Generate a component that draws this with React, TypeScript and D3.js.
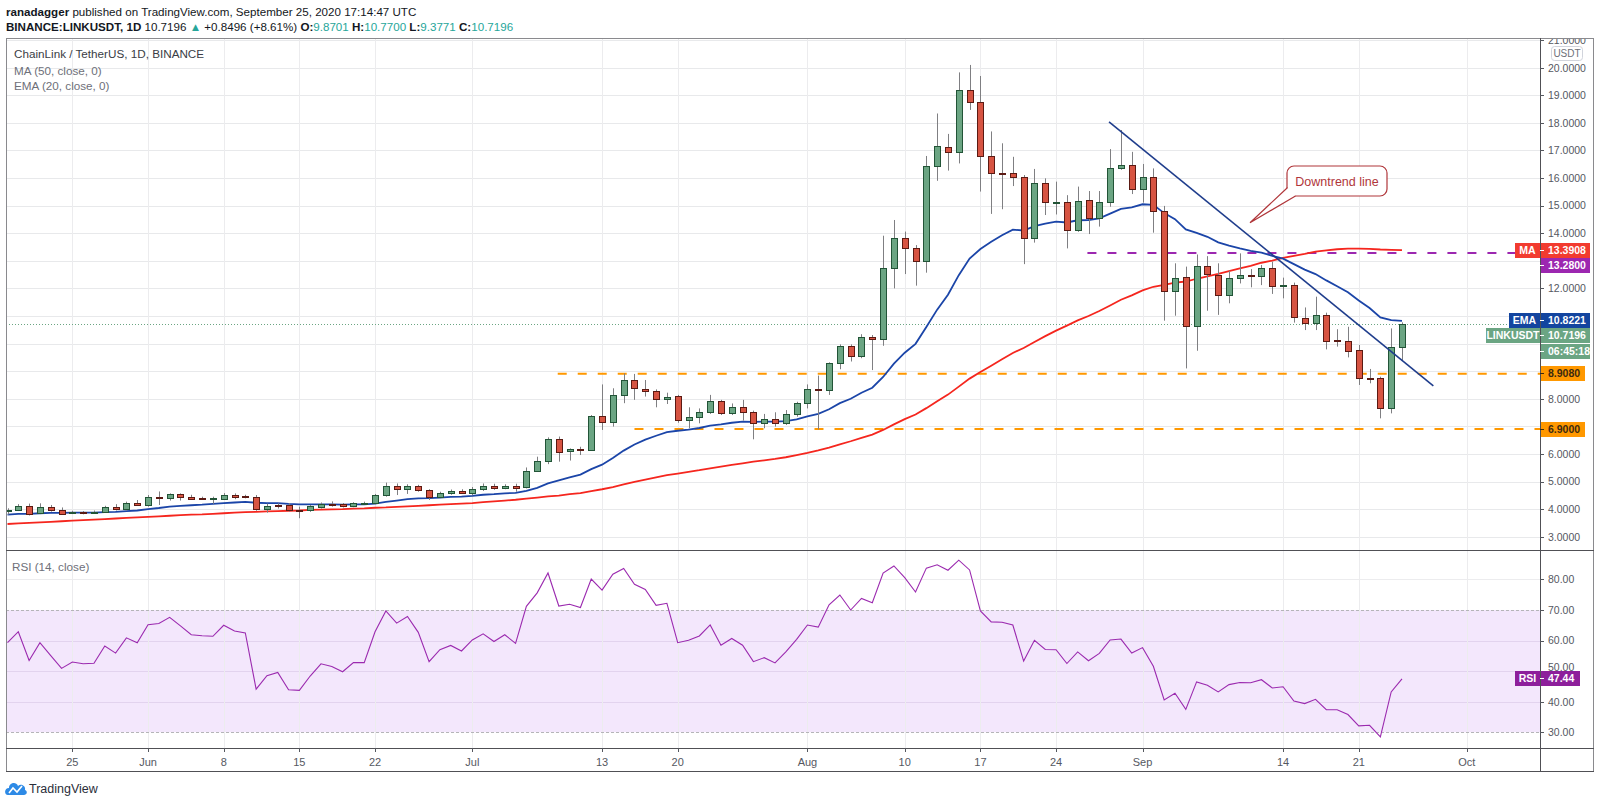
import React, { useRef, useEffect } from "react";
import * as d3 from "d3";

// first candle of the chart (daily candles, one per day)
const FIRST_DAY = "2020-05-19";

const opens = [
  3.95, 3.95, 4.12, 3.87, 4.09, 3.96, 3.85, 3.9, 3.86, 3.88,
  4.09, 4.0, 4.22, 4.16, 4.45, 4.42, 4.53, 4.45, 4.39, 4.38,
  4.38, 4.52, 4.48, 4.45, 3.99, 4.15, 4.15, 3.97, 3.96, 4.09,
  4.18, 4.17, 4.11, 4.2, 4.21, 4.51, 4.84, 4.74, 4.84, 4.69,
  4.44, 4.6, 4.65, 4.57, 4.74, 4.84, 4.77, 4.84, 4.79, 5.38,
  5.75, 6.53, 6.09, 6.17, 6.14, 7.36, 7.17, 8.15, 8.67, 8.37,
  8.27, 7.98, 8.11, 7.23, 7.33, 7.51, 7.91, 7.47, 7.69, 7.53,
  7.11, 7.27, 7.11, 7.44, 7.83, 8.34, 8.3, 9.29, 9.91, 9.55,
  10.25, 10.15, 12.73, 13.81, 13.45, 13.0, 16.44, 17.14, 16.93, 19.19,
  18.77, 16.8, 16.2, 16.2, 16.05, 13.81, 15.81, 15.14, 15.12, 14.12,
  15.2, 14.54, 15.12, 16.35, 16.47, 15.59, 16.03, 14.81, 11.91, 12.4,
  10.64, 12.81, 12.49, 11.76, 12.37, 12.49, 12.46, 12.73, 12.09, 12.12,
  10.92, 10.76, 11.04, 10.13, 10.11, 9.77, 8.77, 8.74, 7.65, 9.8701,
];
const highs = [
  4.03, 4.18, 4.2, 4.21, 4.15, 4.06, 3.94, 3.93, 3.95, 4.12,
  4.18, 4.27, 4.33, 4.51, 4.64, 4.57, 4.57, 4.52, 4.45, 4.45,
  4.58, 4.57, 4.52, 4.51, 4.2, 4.21, 4.21, 4.09, 4.15, 4.24,
  4.28, 4.22, 4.25, 4.27, 4.55, 4.96, 4.93, 4.9, 4.88, 4.72,
  4.63, 4.71, 4.72, 4.8, 4.93, 4.92, 4.9, 4.92, 5.51, 5.9,
  6.6, 6.63, 6.2, 6.26, 7.41, 8.52, 8.38, 8.92, 8.9, 8.68,
  8.34, 8.22, 8.14, 7.69, 7.65, 8.14, 7.96, 7.83, 7.96, 7.57,
  7.45, 7.51, 7.59, 7.89, 8.52, 8.84, 9.32, 9.97, 9.97, 10.34,
  10.31, 13.91, 14.48, 14.06, 13.57, 16.8, 18.34, 17.6, 19.83, 20.1,
  19.7, 17.69, 17.26, 16.77, 16.11, 16.33, 15.99, 15.87, 15.38, 15.69,
  15.53, 15.53, 17.05, 17.74, 16.95, 16.51, 16.35, 14.99, 12.91, 12.79,
  13.23, 13.17, 12.91, 12.64, 13.27, 12.7, 12.85, 12.97, 12.39, 12.21,
  11.31, 11.7, 11.12, 10.52, 10.61, 9.95, 9.08, 8.8, 10.55, 10.77,
];
const lows = [
  3.8, 3.93, 3.77, 3.82, 3.91, 3.79, 3.82, 3.81, 3.83, 3.86,
  3.95, 3.94, 4.12, 4.09, 4.15, 4.31, 4.31, 4.36, 4.33, 4.19,
  4.33, 4.36, 4.39, 3.94, 3.87, 4.02, 3.91, 3.67, 3.9, 4.02,
  4.09, 4.06, 4.07, 4.15, 4.18, 4.45, 4.51, 4.55, 4.63, 4.33,
  4.4, 4.52, 4.55, 4.5, 4.66, 4.7, 4.72, 4.63, 4.75, 5.36,
  5.63, 5.72, 5.76, 5.96, 6.12, 6.87, 6.99, 7.84, 7.96, 8.08,
  7.69, 7.81, 7.13, 6.93, 7.11, 7.45, 7.41, 7.41, 7.21, 6.53,
  6.93, 6.99, 7.05, 7.35, 7.65, 6.89, 8.14, 9.07, 9.35, 9.47,
  9.04, 9.92, 12.0, 12.52, 12.1, 12.57, 15.9, 16.27, 16.53, 18.47,
  15.51, 14.7, 14.87, 15.71, 12.88, 13.66, 14.66, 14.68, 13.45, 14.05,
  13.97, 14.24, 14.96, 16.3, 15.42, 15.11, 14.02, 10.83, 11.01, 9.1,
  9.74, 11.19, 11.04, 11.46, 12.18, 12.04, 12.12, 11.8, 11.64, 10.76,
  10.49, 10.49, 9.79, 9.89, 9.5, 8.5, 8.56, 7.29, 7.47, 9.3771,
];
const closes = [
  3.98, 4.12, 3.82, 4.09, 3.96, 3.84, 3.91, 3.85, 3.91, 4.09,
  3.99, 4.22, 4.15, 4.43, 4.44, 4.53, 4.44, 4.38, 4.38, 4.39,
  4.52, 4.45, 4.44, 3.99, 4.13, 4.14, 3.97, 3.96, 4.11, 4.18,
  4.15, 4.11, 4.22, 4.22, 4.52, 4.84, 4.74, 4.84, 4.69, 4.43,
  4.6, 4.66, 4.59, 4.74, 4.84, 4.77, 4.84, 4.77, 5.37, 5.75,
  6.53, 6.08, 6.17, 6.14, 7.36, 7.17, 8.15, 8.67, 8.38, 8.27,
  7.98, 8.08, 7.23, 7.33, 7.51, 7.91, 7.47, 7.69, 7.53, 7.11,
  7.27, 7.11, 7.44, 7.83, 8.34, 8.3, 9.29, 9.91, 9.55, 10.25,
  10.15, 12.73, 13.81, 13.45, 13.0, 16.44, 17.17, 16.93, 19.19, 18.77,
  16.8, 16.2, 16.17, 16.05, 13.81, 15.81, 15.14, 15.14, 14.12, 15.18,
  14.54, 15.12, 16.35, 16.47, 15.59, 16.03, 14.81, 11.91, 12.37, 10.64,
  12.81, 12.51, 11.76, 12.37, 12.49, 12.48, 12.73, 12.09, 12.12, 10.95,
  10.76, 11.04, 10.11, 10.11, 9.74, 8.74, 8.74, 7.65, 9.89, 10.7196,
];

// EMA (20)
const ema20 = [
  3.8, 3.83, 3.83, 3.85, 3.86, 3.86, 3.87, 3.87, 3.87, 3.89,
  3.9, 3.93, 3.95, 4.0, 4.04, 4.09, 4.12, 4.14, 4.16, 4.19,
  4.22, 4.24, 4.26, 4.23, 4.22, 4.22, 4.19, 4.17, 4.17, 4.17,
  4.17, 4.16, 4.17, 4.17, 4.2, 4.26, 4.31, 4.36, 4.39, 4.4,
  4.42, 4.44, 4.45, 4.48, 4.52, 4.54, 4.57, 4.59, 4.66, 4.77,
  4.93, 5.04, 5.15, 5.25, 5.45, 5.61, 5.85, 6.12, 6.34, 6.52,
  6.66, 6.79, 6.84, 6.88, 6.94, 7.03, 7.07, 7.13, 7.17, 7.16,
  7.17, 7.17, 7.19, 7.25, 7.36, 7.45, 7.62, 7.84, 8.0, 8.22,
  8.4, 8.79, 9.27, 9.67, 9.99, 10.6, 11.23, 11.77, 12.48, 13.08,
  13.43, 13.69, 13.93, 14.13, 14.1, 14.26, 14.35, 14.42, 14.39, 14.47,
  14.48, 14.54, 14.71, 14.88, 14.94, 15.05, 15.03, 14.73, 14.51, 14.14,
  14.01, 13.87, 13.67, 13.55, 13.45, 13.36, 13.3, 13.18, 13.08, 12.88,
  12.68, 12.52, 12.29, 12.08, 11.86, 11.56, 11.29, 10.95, 10.85, 10.8221,
];

// MA (50)
const ma50 = [
  3.46, 3.48, 3.5, 3.52, 3.54, 3.56, 3.58, 3.6, 3.62, 3.64,
  3.66, 3.68, 3.7, 3.72, 3.74, 3.76, 3.78, 3.8, 3.81, 3.83,
  3.85, 3.87, 3.89, 3.9, 3.92, 3.93, 3.94, 3.95, 3.97, 3.98,
  3.99, 4.0, 4.02, 4.03, 4.05, 4.06, 4.08, 4.1, 4.12, 4.14,
  4.16, 4.18, 4.2, 4.22, 4.25, 4.28, 4.31, 4.34, 4.38, 4.42,
  4.46, 4.49, 4.54, 4.58, 4.65, 4.72, 4.8, 4.9, 4.99, 5.07,
  5.15, 5.23, 5.29, 5.35, 5.41, 5.48, 5.54, 5.6, 5.66, 5.72,
  5.77, 5.82, 5.88, 5.96, 6.04, 6.13, 6.23, 6.35, 6.46, 6.58,
  6.7, 6.87, 7.07, 7.26, 7.43, 7.66, 7.91, 8.15, 8.44, 8.73,
  8.97, 9.2, 9.43, 9.66, 9.84, 10.06, 10.27, 10.47, 10.65, 10.84,
  11.0, 11.18, 11.38, 11.59, 11.75, 11.93, 12.06, 12.13, 12.21, 12.25,
  12.35, 12.44, 12.53, 12.63, 12.73, 12.82, 12.93, 13.01, 13.11, 13.18,
  13.25, 13.33, 13.38, 13.42, 13.44, 13.44, 13.43, 13.41, 13.4, 13.3908,
];

// RSI (14, close)
const rsi14 = [
  59.3, 62.9, 53.5, 59.3, 55.1, 50.9, 53.0, 52.4, 52.6, 58.2,
  55.9, 60.9, 59.3, 65.2, 65.6, 67.6, 64.8, 61.9, 61.6, 61.4,
  65.0, 63.1, 62.5, 44.1, 48.5, 49.6, 43.9, 43.7, 48.4, 52.4,
  51.5, 49.8, 52.8, 52.8, 62.9, 69.7, 65.7, 67.9, 62.7, 53.1,
  57.0, 58.4, 56.6, 60.2, 62.2, 59.7, 61.9, 59.1, 71.2, 75.6,
  82.1, 71.3, 71.9, 70.8, 80.1, 76.5, 81.7, 83.6, 78.4, 76.7,
  71.5, 72.2, 59.3, 60.1, 61.5, 65.1, 58.5, 60.7, 58.5, 53.1,
  54.4, 52.7, 56.3, 60.4, 65.1, 64.4, 71.7, 74.9, 70.0, 73.8,
  72.4, 82.1, 84.4, 80.6, 75.9, 83.7, 84.8, 83.0, 86.3, 83.1,
  69.7, 66.1, 66.0, 65.1, 53.3, 60.1, 57.1, 57.0, 52.5, 56.3,
  53.4, 55.8, 60.2, 60.5, 55.9, 57.7, 51.6, 40.6, 42.8, 37.5,
  46.5, 45.4, 43.2, 45.6, 46.3, 46.2, 47.2, 44.5, 44.9, 40.2,
  39.4, 40.8, 37.4, 37.4, 35.8, 32.1, 32.3, 28.5, 43.2, 47.44,
];

const timeTicks: [string, string][] = [
  ["2020-05-25", "25"], ["2020-06-01", "Jun"], ["2020-06-08", "8"], ["2020-06-15", "15"],
  ["2020-06-22", "22"], ["2020-07-01", "Jul"], ["2020-07-13", "13"], ["2020-07-20", "20"],
  ["2020-08-01", "Aug"], ["2020-08-10", "10"], ["2020-08-17", "17"], ["2020-08-24", "24"],
  ["2020-09-01", "Sep"], ["2020-09-14", "14"], ["2020-09-21", "21"], ["2020-10-01", "Oct"],
];
const priceTicks = [3, 4, 5, 6, 7, 8, 9, 10, 11, 12, 13, 14, 15, 16, 17, 18, 19, 20, 21];
const rsiGrid = [40, 50, 60, 80];
const rsiTicks = [30, 40, 50, 60, 70, 80];

// horizontal levels drawn by the author (start = candle index)
const levels = [
  { value: 8.908, start: 50.9, color: "#FF9800", label: "8.9080" },
  { value: 6.9, start: 58.0, color: "#FF9800", label: "6.9000" },
  { value: 13.28, start: 99.9, color: "#9C27B0", label: "13.2800" },
];
// downtrend line, [candle index, price]
const trendLine: [number, number][] = [
  [101.9, 18.04],
  [131.9, 8.47],
];

const FONT = "'Liberation Sans', Arial, sans-serif";

function drawChart(svgEl: SVGSVGElement) {
  const svg = d3.select(svgEl);
  svg.selectAll("*").remove();

  const L = 6, R = 1594, T = 38, AX = 1540, PB = 550, RB = 748, B = 772;

  const x = d3.scaleLinear().domain([0, 135]).range([7.5, 7.5 + 135 * 10.81]);
  const y = d3.scaleLinear().domain([3, 20]).range([536.7, 67.7]);
  const ry = d3.scaleLinear().domain([30, 70]).range([732.3, 610]);

  const start = new Date(FIRST_DAY);
  const dayIndex = (s: string) => d3.utcDay.count(start, new Date(s));
  const px = (v: number) => Math.round(v) + 0.5;

  svg.append("rect").attr("width", 1600).attr("height", 805).attr("fill", "#fff");

  const defs = svg.append("defs");
  defs.append("clipPath").attr("id", "pricePane").append("rect")
    .attr("x", L).attr("y", T).attr("width", AX - L).attr("height", PB - T);
  defs.append("clipPath").attr("id", "rsiPane").append("rect")
    .attr("x", L).attr("y", PB).attr("width", AX - L).attr("height", RB - PB);
  defs.append("clipPath").attr("id", "priceAxis").append("rect")
    .attr("x", AX).attr("y", T + 1).attr("width", R - AX).attr("height", PB - T - 1);

  // RSI background band
  svg.append("rect")
    .attr("x", L).attr("y", ry(70)).attr("width", AX - L).attr("height", ry(30) - ry(70))
    .attr("fill", "#F3E7FC");

  // grid
  const grid = svg.append("g").attr("stroke", "#E8E9EB").attr("stroke-width", 1);
  grid.append("g").attr("clip-path", "url(#pricePane)")
    .selectAll("line").data(priceTicks).join("line")
    .attr("x1", L).attr("x2", AX).attr("y1", (d) => px(y(d))).attr("y2", (d) => px(y(d)));
  grid.append("g").selectAll("line").data(rsiGrid).join("line")
    .attr("x1", L).attr("x2", AX).attr("y1", (d) => px(ry(d))).attr("y2", (d) => px(ry(d)))
    .attr("stroke", (d) => (d === 80 ? "#ECECEE" : "#E2D3EE"));
  grid.append("g").selectAll("line").data(timeTicks).join("line")
    .attr("x1", (d) => px(x(dayIndex(d[0])))).attr("x2", (d) => px(x(dayIndex(d[0]))))
    .attr("y1", T).attr("y2", RB)
    .attr("stroke", "#ECECEE");

  // RSI 70 / 30 bands
  svg.append("g").selectAll("line").data([70, 30]).join("line")
    .attr("x1", L).attr("x2", AX).attr("y1", (d) => px(ry(d))).attr("y2", (d) => px(ry(d)))
    .attr("stroke", "#B5B5B8").attr("stroke-dasharray", "3,2");

  // legends
  const legend = svg.append("g").attr("font-family", FONT);
  legend.append("text").attr("x", 14).attr("y", 58).attr("font-size", 11.7).attr("fill", "#3A3D45")
    .text("ChainLink / TetherUS, 1D, BINANCE");
  legend.append("text").attr("x", 14).attr("y", 74.5).attr("font-size", 11.7).attr("fill", "#6E7079")
    .text("MA (50, close, 0)");
  legend.append("text").attr("x", 14).attr("y", 89.5).attr("font-size", 11.7).attr("fill", "#6E7079")
    .text("EMA (20, close, 0)");
  legend.append("text").attr("x", 12).attr("y", 571).attr("font-size", 11.7).attr("fill", "#6E7079")
    .text("RSI (14, close)");

  const pane = svg.append("g").attr("clip-path", "url(#pricePane)");

  // author levels
  pane.selectAll("line.level").data(levels).join("line")
    .attr("x1", (d) => x(d.start)).attr("x2", AX)
    .attr("y1", (d) => y(d.value)).attr("y2", (d) => y(d.value))
    .attr("stroke", (d) => d.color).attr("stroke-width", 2)
    .attr("stroke-dasharray", "9,11");

  // last price line
  pane.append("line")
    .attr("x1", L).attr("x2", AX)
    .attr("y1", px(y(closes[closes.length - 1]))).attr("y2", px(y(closes[closes.length - 1])))
    .attr("stroke", "#6BA583").attr("stroke-dasharray", "1,2");

  // moving averages
  const avgLine = d3.line<number>().x((_, i) => x(i)).y((v) => y(v));
  pane.append("path").attr("d", avgLine(ma50)).attr("fill", "none")
    .attr("stroke", "#F5261E").attr("stroke-width", 1.8);
  pane.append("path").attr("d", avgLine(ema20)).attr("fill", "none")
    .attr("stroke", "#1B45A8").attr("stroke-width", 1.8);

  // candles
  const candles = closes.map((c, i) => ({ i, o: opens[i], h: highs[i], l: lows[i], c }));
  pane.append("g").selectAll("line").data(candles).join("line")
    .attr("x1", (d) => px(x(d.i))).attr("x2", (d) => px(x(d.i)))
    .attr("y1", (d) => y(d.h)).attr("y2", (d) => y(d.l))
    .attr("stroke", "#7F7F82").attr("stroke-width", 1);
  pane.append("g").selectAll("rect").data(candles).join("rect")
    .attr("x", (d) => Math.round(x(d.i)) - 2.5)
    .attr("width", 6)
    .attr("y", (d) => Math.round(y(Math.max(d.o, d.c))) + 0.5)
    .attr("height", (d) => Math.max(1, Math.round(y(Math.min(d.o, d.c))) - Math.round(y(Math.max(d.o, d.c)))))
    .attr("fill", (d) => (d.c >= d.o ? "#6BA583" : "#D75442"))
    .attr("stroke", (d) => (d.c >= d.o ? "#225437" : "#5B1A13"))
    .attr("stroke-width", 1);

  // downtrend line
  pane.append("line")
    .attr("x1", x(trendLine[0][0])).attr("y1", y(trendLine[0][1]))
    .attr("x2", x(trendLine[1][0])).attr("y2", y(trendLine[1][1]))
    .attr("stroke", "#1F3D8C").attr("stroke-width", 1.6);

  // callout
  const call = svg.append("g");
  call.append("rect").attr("x", 1287).attr("y", 166).attr("width", 100).attr("height", 30).attr("rx", 7)
    .attr("fill", "#fff").attr("stroke", "#B0363A").attr("stroke-width", 1.2);
  call.append("path").attr("d", "M1287.6,187.5 L1250,222.7 L1295.5,196 Z").attr("fill", "#fff");
  call.append("path").attr("d", "M1287.6,187.5 L1250,222.7 L1295.5,196").attr("fill", "none")
    .attr("stroke", "#B0363A").attr("stroke-width", 1.2);
  call.append("text").attr("x", 1337).attr("y", 185.5).attr("text-anchor", "middle")
    .attr("font-family", FONT).attr("font-size", 12.5).attr("fill", "#B0363A").text("Downtrend line");

  // RSI line
  svg.append("g").attr("clip-path", "url(#rsiPane)").append("path")
    .attr("d", d3.line<number>().x((_, i) => x(i)).y((v) => ry(v))(rsi14))
    .attr("fill", "none").attr("stroke", "#9B2AAF").attr("stroke-width", 1.1);

  // frame
  const frame = svg.append("g").attr("fill", "none");
  frame.append("rect").attr("x", L + 0.5).attr("y", T + 0.5).attr("width", R - L - 1).attr("height", B - T - 1)
    .attr("stroke", "#8A8A8E");
  frame.append("line").attr("x1", L).attr("x2", R).attr("y1", PB + 0.5).attr("y2", PB + 0.5).attr("stroke", "#505055");
  frame.append("line").attr("x1", L).attr("x2", R).attr("y1", RB + 0.5).attr("y2", RB + 0.5).attr("stroke", "#505055");
  frame.append("line").attr("x1", L).attr("x2", R).attr("y1", B - 0.5).attr("y2", B - 0.5).attr("stroke", "#505055");
  frame.append("line").attr("x1", AX + 0.5).attr("x2", AX + 0.5).attr("y1", T).attr("y2", B).attr("stroke", "#505055");

  // axis value boxes (centre y), price tick labels under them are hidden
  const priceBoxes = [
    y(13.3908), y(13.28) + 12, y(10.8221), y(10.7196) + 12, y(10.7196) + 27.5, y(8.908), y(6.9),
  ];
  const visiblePrice = priceTicks.filter((t) => priceBoxes.every((c) => Math.abs(y(t) - c) > 11));

  // price axis
  const pAxis = svg.append("g").attr("clip-path", "url(#priceAxis)")
    .attr("font-family", FONT).attr("font-size", 10.5).attr("fill", "#55585F");
  pAxis.selectAll("line").data(visiblePrice).join("line")
    .attr("x1", AX).attr("x2", AX + 4).attr("y1", (d) => px(y(d))).attr("y2", (d) => px(y(d)))
    .attr("stroke", "#55585F");
  pAxis.selectAll("text").data(visiblePrice).join("text")
    .attr("x", AX + 8).attr("y", (d) => y(d) + 3.8).text((d) => d.toFixed(4));

  // RSI axis (50.00 peeks out above the RSI value box)
  const rAxis = svg.append("g").attr("font-family", FONT).attr("font-size", 10.5).attr("fill", "#55585F");
  rAxis.selectAll("line").data(rsiTicks).join("line")
    .attr("x1", AX).attr("x2", AX + 4).attr("y1", (d) => px(ry(d))).attr("y2", (d) => px(ry(d)))
    .attr("stroke", "#55585F");
  rAxis.selectAll("text").data(rsiTicks).join("text")
    .attr("x", AX + 8).attr("y", (d) => ry(d) + (d === 50 ? 0 : 3.8)).text((d) => d.toFixed(2));

  // time axis
  const tAxis = svg.append("g").attr("font-family", FONT).attr("font-size", 11).attr("fill", "#55585F");
  tAxis.selectAll("line").data(timeTicks).join("line")
    .attr("x1", (d) => px(x(dayIndex(d[0])))).attr("x2", (d) => px(x(dayIndex(d[0]))))
    .attr("y1", RB).attr("y2", RB + 4).attr("stroke", "#55585F");
  tAxis.selectAll("text").data(timeTicks).join("text")
    .attr("x", (d) => x(dayIndex(d[0]))).attr("y", 765.5).attr("text-anchor", "middle")
    .text((d) => d[1]);

  const boxes = svg.append("g").attr("font-family", FONT).attr("font-size", 10.5);
  const valueBox = (cy: number, fill: string, text: string, color: string, tag?: string, tagX?: number, right = 1590) => {
    const top = Math.round(cy - 7.5);
    if (tag && tagX) {
      boxes.append("rect").attr("x", tagX).attr("y", top).attr("width", AX - tagX).attr("height", 15).attr("fill", fill);
      boxes.append("text").attr("x", (tagX + AX) / 2).attr("y", top + 11).attr("text-anchor", "middle")
        .attr("fill", color).attr("font-weight", "bold").text(tag);
    }
    boxes.append("rect").attr("x", AX + 1).attr("y", top).attr("width", right - AX - 1).attr("height", 15).attr("fill", fill);
    boxes.append("line").attr("x1", AX).attr("x2", AX + 4).attr("y1", top + 7.5).attr("y2", top + 7.5).attr("stroke", color);
    boxes.append("text").attr("x", AX + 8).attr("y", top + 11).attr("fill", color).attr("font-weight", "bold").text(text);
  };
  valueBox(priceBoxes[0], "#F23B2F", "13.3908", "#fff", "MA", 1515);
  valueBox(priceBoxes[1], "#9C27B0", "13.2800", "#fff");
  valueBox(priceBoxes[2], "#13459F", "10.8221", "#fff", "EMA", 1509);
  valueBox(priceBoxes[3], "#6BA583", "10.7196", "#fff", "LINKUSDT", 1486);
  valueBox(priceBoxes[4], "#6BA583", "06:45:18", "#fff");
  levels.filter((d) => d.color === "#FF9800").forEach((d) => valueBox(y(d.value), d.color, d.label, "#3B2A10", undefined, undefined, 1585));
  valueBox(ry(47.44), "#8D1F9B", "47.44", "#fff", "RSI", 1515, 1580);

  // USDT tag
  svg.append("rect").attr("x", 1551.5).attr("y", 46.5).attr("width", 31).attr("height", 14).attr("rx", 3)
    .attr("fill", "#fff").attr("stroke", "#D1D4DC");
  svg.append("text").attr("x", 1567).attr("y", 57).attr("text-anchor", "middle")
    .attr("font-family", FONT).attr("font-size", 10).attr("fill", "#6E7079").text("USDT");

  // header
  const head = svg.append("g").attr("font-family", FONT).attr("font-size", 11.6).attr("fill", "#131722")
    .style("white-space", "pre");
  const h1 = head.append("text").attr("x", 6).attr("y", 16);
  h1.append("tspan").attr("font-weight", "bold").text("ranadagger");
  h1.append("tspan").text(" published on TradingView.com, September 25, 2020 17:14:47 UTC");
  const h2 = head.append("text").attr("x", 6).attr("y", 31);
  const teal = "#26A69A";
  const parts: [string, boolean, string][] = [
    ["BINANCE:LINKUSDT, 1D", true, "#131722"],
    ["  10.7196 ", false, "#131722"],
    ["▲", false, teal],
    [" +0.8496 (+8.61%) ", false, "#131722"],
    ["O:", true, "#131722"], ["9.8701", false, teal],
    [" H:", true, "#131722"], ["10.7700", false, teal],
    [" L:", true, "#131722"], ["9.3771", false, teal],
    [" C:", true, "#131722"], ["10.7196", false, teal],
  ];
  parts.forEach(([t, bold, c]) => {
    h2.append("tspan").attr("font-weight", bold ? "bold" : "normal").attr("fill", c).text(t);
  });

  // TradingView logo
  const logo = svg.append("g");
  logo.append("path")
    .attr("d", "M8,795 C4,795 4,788 9,788 C9,783 16,781 18,786 C21,783 26,786 25,790 C28,791 27,795 24,795 Z")
    .attr("fill", "#2D8AE6");
  logo.append("path").attr("d", "M9,793 L13,788 L17,792 L22,786").attr("fill", "none")
    .attr("stroke", "#fff").attr("stroke-width", 1.6);
  logo.append("text").attr("x", 29).attr("y", 793).attr("font-family", FONT).attr("font-size", 12.5)
    .attr("fill", "#2A2E39").text("TradingView");
}

const App: React.FunctionComponent = function () {
  const svgRef = useRef<SVGSVGElement>(null);

  useEffect(() => {
    if (svgRef.current == null) {
      return;
    }
    drawChart(svgRef.current);
  }, []);

  return (
    <svg
      ref={svgRef}
      width={1600}
      height={805}
      style={{ position: "absolute", left: 0, top: 0, display: "block" }}
    />
  );
};

export default App;
